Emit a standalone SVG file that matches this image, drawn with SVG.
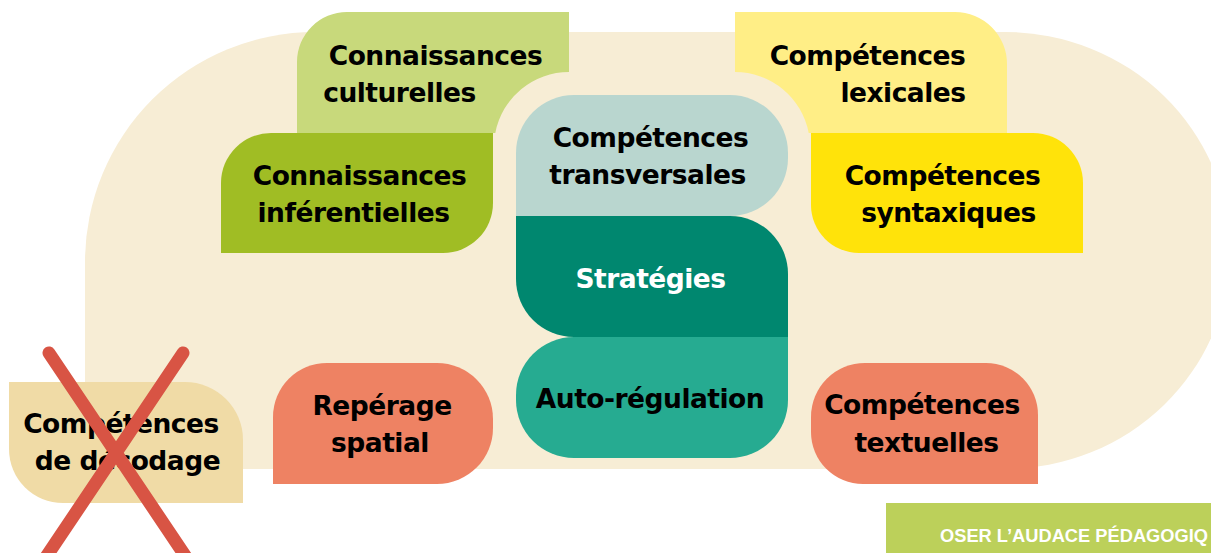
<svg xmlns="http://www.w3.org/2000/svg" width="1211" height="553" viewBox="0 0 1211 553">
  <style>
    .lbl { font-family: "DejaVu Sans", "Liberation Sans", sans-serif; font-weight: bold; font-size: 26.5px; letter-spacing: -0.5px; fill: #000; text-anchor: middle; }
    .lbl.light { fill: #fff; }
    .foot { font-family: "Liberation Sans", "DejaVu Sans", sans-serif; font-weight: bold; font-size: 18.6px; fill: #fff; }
    .cross { stroke: #D85444; stroke-width: 13; stroke-linecap: round; fill: none; }
  </style>

  <!-- beige backdrop -->
  <path id="backdrop" d="M85,469 V262 A230 230 0 0 1 315,32 H1005 A225 218.5 0 0 1 1005,469 Z" fill="#F7EDD5"/>

  <!-- knowledge (left, green) -->
  <g id="connaissances-culturelles">
    <path d="M297,62 A50 50 0 0 1 347,12 H569 V72 A75 75 0 0 0 495.3,133 H297 Z" fill="#C8D97B"/>
    <text class="lbl" x="435.5" y="65">Connaissances</text>
    <text class="lbl" x="399.5" y="101.5">culturelles</text>
  </g>
  <g id="connaissances-inferentielles">
    <path d="M221,183 A50 50 0 0 1 271,133 H493 V203 A50 50 0 0 1 443,253 H221 Z" fill="#A0BD24"/>
    <text class="lbl" x="359.5" y="185">Connaissances</text>
    <text class="lbl" x="353.5" y="222">inférentielles</text>
  </g>

  <!-- language skills (right, yellow) -->
  <g id="competences-lexicales">
    <path d="M735,12 H955 A52 52 0 0 1 1007,64 V133 H808.7 A75 75 0 0 0 735,72 Z" fill="#FFEE86"/>
    <text class="lbl" x="867.5" y="65">Compétences</text>
    <text class="lbl" x="903" y="101.5">lexicales</text>
  </g>
  <g id="competences-syntaxiques">
    <path d="M811,133 H1033 A50 50 0 0 1 1083,183 V253 H859 A48 48 0 0 1 811,205 Z" fill="#FFE30A"/>
    <text class="lbl" x="942.5" y="185">Compétences</text>
    <text class="lbl" x="948.5" y="222">syntaxiques</text>
  </g>

  <!-- central column -->
  <g id="competences-transversales">
    <path d="M516,153 A58 58 0 0 1 574,95 H730 A58 58 0 0 1 788,153 V158 A58 58 0 0 1 730,216 H516 Z" fill="#B9D6CF"/>
    <text class="lbl" x="650.5" y="147">Compétences</text>
    <text class="lbl" x="647.5" y="184">transversales</text>
  </g>
  <g id="strategies">
    <path d="M516,216 H730 A58 58 0 0 1 788,274 V337 H574 A58 58 0 0 1 516,279 Z" fill="#00876F"/>
    <text class="lbl light" x="650.5" y="288">Stratégies</text>
  </g>
  <g id="auto-regulation">
    <path d="M516,395 A58 58 0 0 1 574,337 H788 V400 A58 58 0 0 1 730,458 H574 A58 58 0 0 1 516,400 Z" fill="#26AB91"/>
    <text class="lbl" x="650" y="408">Auto-régulation</text>
  </g>

  <!-- bottom row -->
  <g id="reperage-spatial">
    <path d="M273,417 A54 54 0 0 1 327,363 H437 A56 56 0 0 1 493,419 V428 A56 56 0 0 1 437,484 H273 Z" fill="#EE8263"/>
    <text class="lbl" x="382" y="415">Repérage</text>
    <text class="lbl" x="380" y="451.5">spatial</text>
  </g>
  <g id="competences-textuelles">
    <path d="M811,417 A54 54 0 0 1 865,363 H986 A52 52 0 0 1 1038,415 V484 H863 A52 52 0 0 1 811,432 Z" fill="#EE8263"/>
    <text class="lbl" x="922" y="414">Compétences</text>
    <text class="lbl" x="926.5" y="452">textuelles</text>
  </g>
  <g id="competences-decodage">
    <path d="M9,382 H185 A58 58 0 0 1 243,440 V503 H63 A54 54 0 0 1 9,449 Z" fill="#F0DBA6"/>
    <text class="lbl" x="121" y="433">Compétences</text>
    <text class="lbl" x="127.5" y="470">de décodage</text>
    <!-- struck out -->
    <line class="cross" x1="49" y1="353" x2="190" y2="563"/>
    <line class="cross" x1="183" y1="353" x2="42" y2="563"/>
  </g>

  <!-- no connectors in this figure -->
  <g id="connectors"/>

  <!-- footer band -->
  <g id="footer">
    <rect x="886" y="503" width="330" height="55" fill="#BCD05A"/>
    <text class="foot" x="940" y="541.5" textLength="268" lengthAdjust="spacingAndGlyphs">OSER L’AUDACE PÉDAGOGIQ</text>
  </g>
</svg>
